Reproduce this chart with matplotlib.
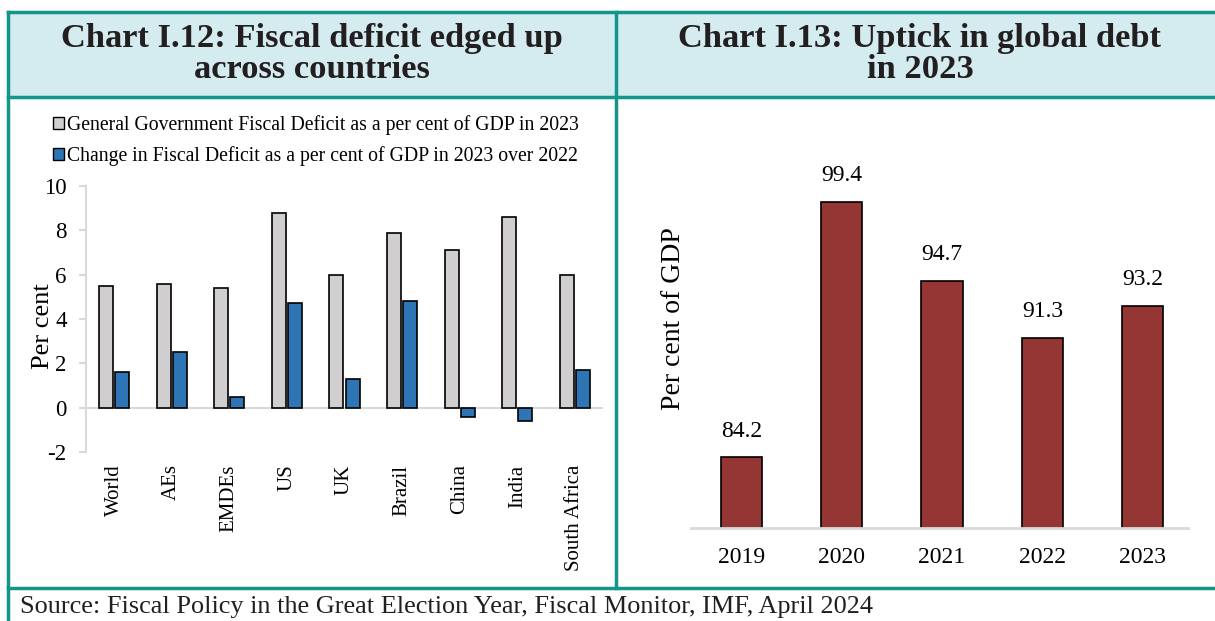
"""
Two-panel chart: fiscal deficit by country and global debt
"""

import matplotlib.pyplot as plt
from matplotlib.lines import Line2D
from matplotlib.patches import Patch, Rectangle

W, H = 1215, 621

countries = ["World", "AEs", "EMDEs", "US", "UK", "Brazil", "China",
             "India", "South Africa"]
deficit_2023 = [5.5, 5.6, 5.4, 8.8, 6.0, 7.9, 7.1, 8.6, 6.0]
deficit_change = [1.6, 2.5, 0.5, 4.7, 1.3, 4.8, -0.4, -0.6, 1.7]

years = ["2019", "2020", "2021", "2022", "2023"]
debt = [84.2, 99.4, 94.7, 91.3, 93.2]

TEAL = "#12968a"
BAND = "#d4ebef"
GREY = "#d0cece"
BLUE = "#2e75b6"
RED = "#943634"
AXIS = "#d9d9d9"
SERIF = "Liberation Serif"

plt.rcParams["font.family"] = SERIF
plt.rcParams["axes.unicode_minus"] = False


def fx(px):
    return px / W


def fy(py):
    return 1 - py / H


fig = plt.figure(figsize=(W / 100, H / 100), dpi=100)

# title band and frame
fig.add_artist(Rectangle((fx(8), fy(97)), fx(1215) - fx(8), fy(12) - fy(97),
                         transform=fig.transFigure, facecolor=BAND,
                         edgecolor="none", zorder=0))
lines = [((8, 1215), (12, 12)), ((8, 1215), (97, 97)), ((8, 1215), (588, 588)),
         ((8, 8), (12, 621)), ((616, 616), (12, 588))]
for xs, ys in lines:
    fig.add_artist(Line2D([fx(x) for x in xs], [fy(y) for y in ys],
                          transform=fig.transFigure, color=TEAL, lw=2.5))

fig.text(fx(312), fy(54), "Chart I.12: Fiscal deficit edged up\nacross countries",
         ha="center", va="center", fontsize=24.8, fontweight="bold",
         color="#231f20", linespacing=1.02)
fig.text(fx(920), fy(54), "Chart I.13: Uptick in global debt\nin 2023",
         ha="center", va="center", fontsize=24.8, fontweight="bold",
         color="#231f20", linespacing=1.02)
fig.text(fx(20), fy(607), "Source: Fiscal Policy in the Great Election Year, "
         "Fiscal Monitor, IMF, April 2024", ha="left", va="center",
         fontsize=18.9, color="#231f20")

# left panel
ax = fig.add_axes([fx(86), fy(452), (603 - 86) / W, (452 - 186) / H])
x = list(range(len(countries)))
ax.bar([i - 0.14 for i in x], deficit_2023, width=0.245, color=GREY,
       edgecolor="black", linewidth=1.2, zorder=2)
ax.bar([i + 0.14 for i in x], deficit_change, width=0.245, color=BLUE,
       edgecolor="black", linewidth=1.2, zorder=2)
ax.axhline(0, color=AXIS, lw=1.5, zorder=1)
ax.set_xlim(-0.486, 8.486)
ax.set_ylim(-2, 10)
ax.set_yticks(range(-2, 11, 2))
ax.set_xticks(x)
ax.set_xticklabels(countries, rotation=90, fontsize=15)
ax.tick_params(axis="x", length=0, pad=9)
ax.tick_params(axis="y", labelsize=16.5, color=AXIS, length=5, width=1.5,
               pad=9)
for s in ["top", "right", "bottom"]:
    ax.spines[s].set_visible(False)
ax.spines["left"].set_color(AXIS)
ax.spines["left"].set_linewidth(1.5)
ax.set_ylabel("Per cent", fontsize=19)
ax.yaxis.set_label_coords((54 - 86) / (603 - 86), (452 - 326) / (452 - 186))

handles = [Patch(facecolor=GREY, edgecolor="black"),
           Patch(facecolor=BLUE, edgecolor="black")]
fig.legend(handles, ["General Government Fiscal Deficit as a per cent of GDP in 2023",
                     "Change in Fiscal Deficit as a per cent of GDP in 2023 over 2022"],
           loc="upper left", bbox_to_anchor=(fx(45), fy(107)), frameon=False,
           fontsize=14.2, handlelength=0.55, handleheight=0.55,
           handletextpad=0.15, labelspacing=0.55, borderaxespad=0)

# right panel
ax2 = fig.add_axes([fx(691), fy(528), (1188 - 691) / W, (528 - 192) / H])
ax2.bar(years, debt, width=0.41, color=RED, edgecolor="black",
        linewidth=1.2, zorder=2)
for i, v in enumerate(debt):
    ax2.annotate(f"{v:.1f}", (i, v), xytext=(0, 19), textcoords="offset points",
                 ha="center", va="center", fontsize=17, annotation_clip=False)
ax2.set_xlim(-0.5, 4.45)
ax2.set_ylim(80, 100)
ax2.set_yticks([])
ax2.tick_params(axis="x", length=0, pad=14, labelsize=17)
for s in ["top", "right", "left"]:
    ax2.spines[s].set_visible(False)
ax2.spines["bottom"].set_color(AXIS)
ax2.spines["bottom"].set_linewidth(2)
ax2.set_ylabel("Per cent of GDP", fontsize=20)
ax2.yaxis.set_label_coords((686 - 691) / (1188 - 691), (528 - 319) / (528 - 192))

fig.savefig("out.png", dpi=100)
